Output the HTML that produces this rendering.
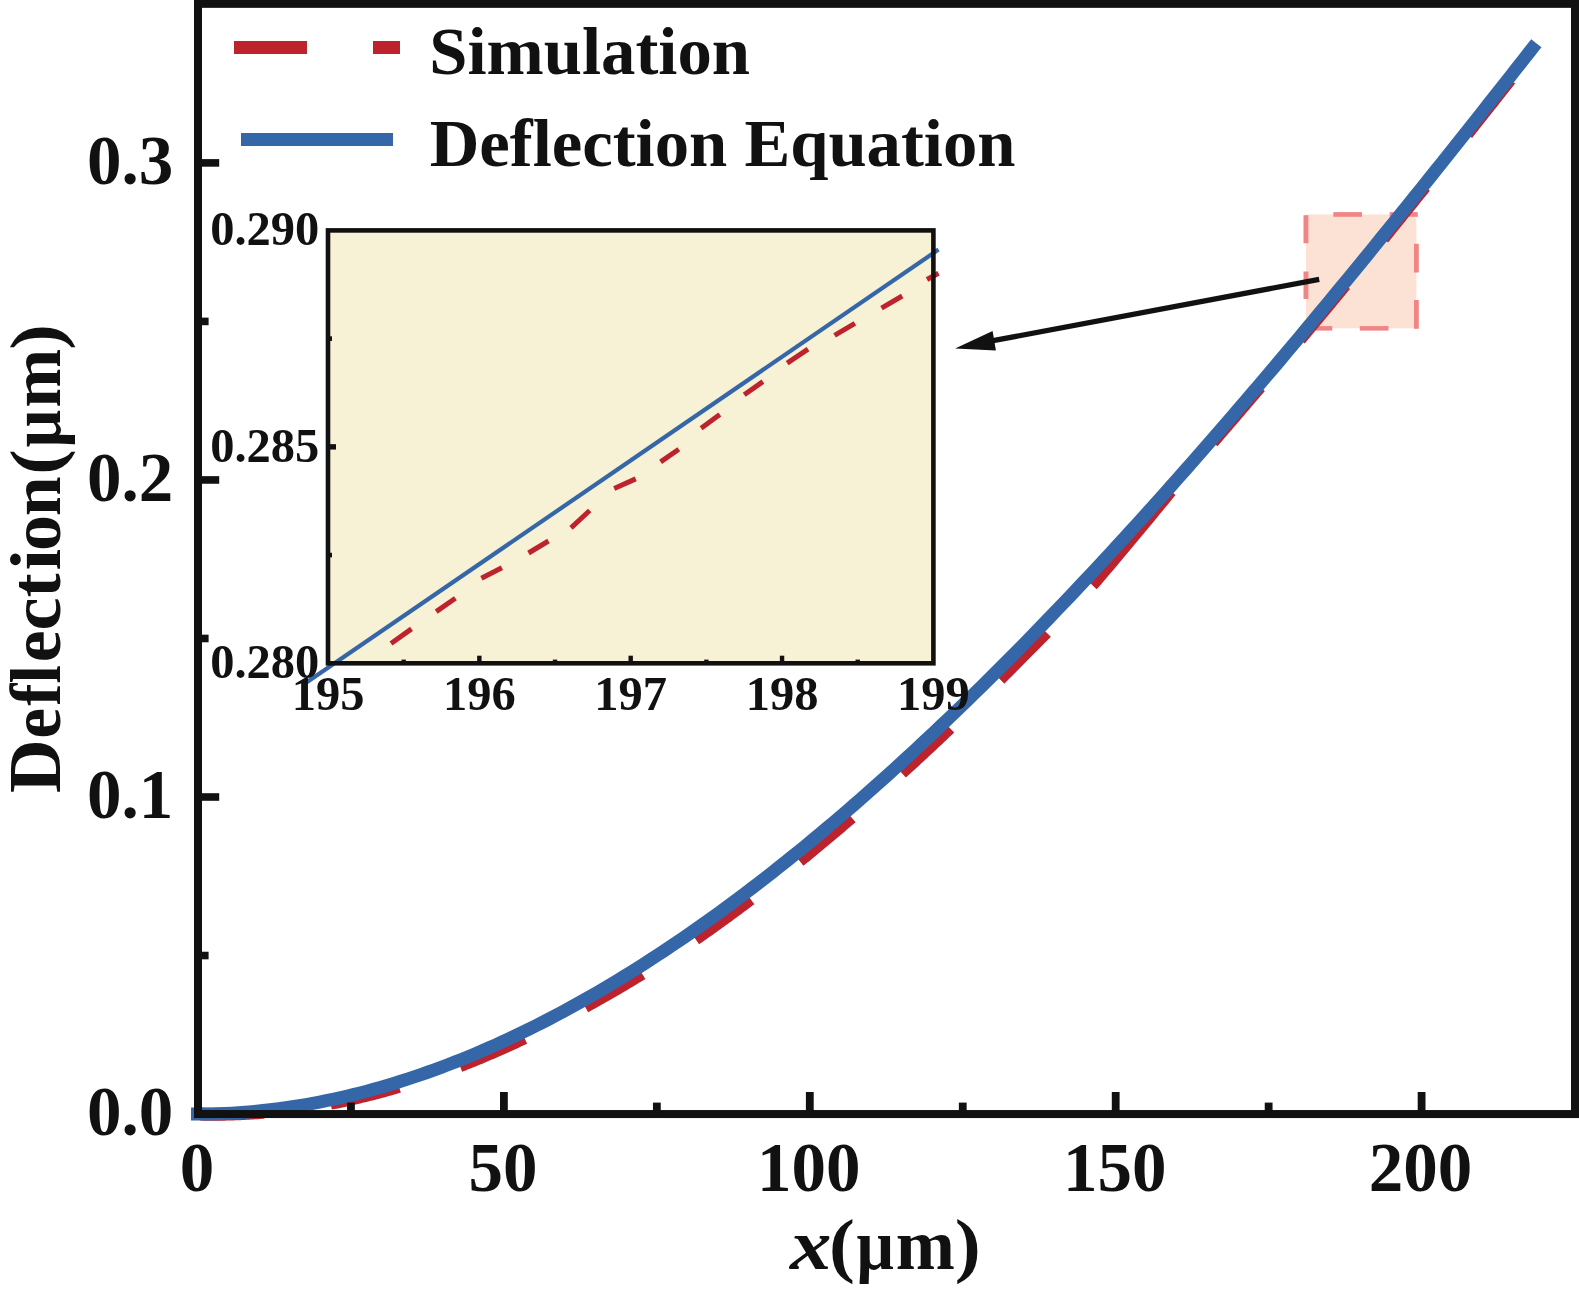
<!DOCTYPE html>
<html><head><meta charset="utf-8"><style>
html,body{margin:0;padding:0;background:#fff;overflow:hidden;width:1579px;height:1293px;}
svg{display:block;}
</style></head><body>
<svg width="1579" height="1293" viewBox="0 0 1579 1293">
<rect width="1579" height="1293" fill="#fff"/>
<rect x="1306" y="214.5" width="110.4" height="113.8" fill="#FCE2D5"/>
<rect x="1333.3" y="212.1" width="28.7" height="4.7" fill="#F08585"/>
<rect x="1389.7" y="212.1" width="28.1" height="4.7" fill="#F08585"/>
<rect x="1414" y="243.8" width="4.8" height="28.7" fill="#F08585"/>
<rect x="1414" y="300" width="4.8" height="28.8" fill="#F08585"/>
<rect x="1359.8" y="326.1" width="28.7" height="4.5" fill="#F08585"/>
<rect x="1316" y="326.1" width="16.2" height="4.5" fill="#F08585"/>
<rect x="1303.5" y="271.5" width="4.9" height="27.5" fill="#F08585"/>
<rect x="1303.5" y="215.2" width="4.9" height="28.1" fill="#F08585"/>
<path d="M200.00,1114.05 L202.21,1114.09 L204.41,1114.13 L206.62,1114.16 L208.83,1114.19 L211.03,1114.20 L213.24,1114.21 L215.45,1114.21 L217.66,1114.20 L219.86,1114.18 L222.07,1114.16 L224.28,1114.13 L226.48,1114.08 L228.69,1114.04 L230.90,1113.98 L233.10,1113.91 L235.31,1113.84 L237.52,1113.75 L239.72,1113.66 L241.93,1113.56 L244.14,1113.46 L246.34,1113.34 L248.55,1113.22 L250.76,1113.09 L252.97,1112.95 L255.17,1112.81 L257.38,1112.65 L259.59,1112.49 L261.79,1112.32 L264.00,1112.15" fill="none" stroke="#BE222D" stroke-width="13" stroke-linecap="butt"/>
<path d="M330.60,1103.20 L332.96,1102.74 L335.32,1102.27 L337.68,1101.79 L340.03,1101.31 L342.39,1100.81 L344.75,1100.31 L347.11,1099.79 L349.47,1099.27 L351.83,1098.74 L354.19,1098.21 L356.54,1097.66 L358.90,1097.10 L361.26,1096.54 L363.62,1095.97 L365.98,1095.39 L368.34,1094.80 L370.70,1094.21 L373.06,1093.60 L375.41,1092.99 L377.77,1092.37 L380.13,1091.74 L382.49,1091.11 L384.85,1090.46 L387.21,1089.81 L389.57,1089.15 L391.92,1088.48 L394.28,1087.80 L396.64,1087.11 L399.00,1086.42" fill="none" stroke="#BE222D" stroke-width="13" stroke-linecap="butt"/>
<path d="M459.80,1065.70 L462.03,1064.84 L464.26,1063.96 L466.48,1063.08 L468.71,1062.19 L470.94,1061.30 L473.17,1060.40 L475.39,1059.49 L477.62,1058.57 L479.85,1057.65 L482.08,1056.72 L484.30,1055.79 L486.53,1054.84 L488.76,1053.89 L490.99,1052.94 L493.21,1051.98 L495.44,1051.01 L497.67,1050.03 L499.90,1049.05 L502.12,1048.06 L504.35,1047.06 L506.58,1046.06 L508.81,1045.05 L511.03,1044.03 L513.26,1043.01 L515.49,1041.98 L517.72,1040.94 L519.94,1039.90 L522.17,1038.85 L524.40,1037.80" fill="none" stroke="#BE222D" stroke-width="13" stroke-linecap="butt"/>
<path d="M585.00,1006.59 L586.97,1005.49 L588.93,1004.40 L590.90,1003.30 L592.86,1002.22 L594.83,1001.12 L596.79,1000.02 L598.76,998.92 L600.72,997.81 L602.69,996.70 L604.66,995.58 L606.62,994.46 L608.59,993.33 L610.55,992.20 L612.52,991.06 L614.48,989.92 L616.45,988.77 L618.41,987.62 L620.38,986.47 L622.34,985.31 L624.31,984.14 L626.28,982.97 L628.24,981.79 L630.21,980.62 L632.17,979.43 L634.14,978.24 L636.10,977.05 L638.07,975.85 L640.03,974.65 L642.00,973.44" fill="none" stroke="#BE222D" stroke-width="13" stroke-linecap="butt"/>
<path d="M695.40,938.87 L697.30,937.58 L699.20,936.29 L701.10,934.97 L703.00,933.64 L704.90,932.30 L706.80,930.96 L708.70,929.61 L710.60,928.26 L712.50,926.91 L714.40,925.55 L716.30,924.19 L718.20,922.82 L720.10,921.45 L722.00,920.08 L723.90,918.70 L725.80,917.31 L727.70,915.93 L729.60,914.54 L731.50,913.14 L733.40,911.74 L735.30,910.34 L737.20,908.93 L739.10,907.52 L741.00,906.11 L742.90,904.69 L744.80,903.27 L746.70,901.84 L748.60,900.41 L750.50,898.98" fill="none" stroke="#BE222D" stroke-width="13" stroke-linecap="butt"/>
<path d="M799.40,860.72 L801.19,859.27 L802.99,857.81 L804.78,856.35 L806.57,854.89 L808.37,853.42 L810.16,851.95 L811.95,850.47 L813.74,849.00 L815.54,847.51 L817.33,846.03 L819.12,844.54 L820.92,843.05 L822.71,841.56 L824.50,840.06 L826.30,838.56 L828.09,837.06 L829.88,835.55 L831.68,834.04 L833.47,832.53 L835.26,831.01 L837.06,829.49 L838.85,827.97 L840.64,826.44 L842.43,824.91 L844.23,823.38 L846.02,821.84 L847.81,820.31 L849.61,818.76 L851.40,817.22" fill="none" stroke="#BE222D" stroke-width="13" stroke-linecap="butt"/>
<path d="M901.50,772.79 L903.16,771.27 L904.82,769.76 L906.49,768.24 L908.15,766.72 L909.81,765.20 L911.47,763.67 L913.13,762.14 L914.80,760.61 L916.46,759.08 L918.12,757.54 L919.78,756.00 L921.44,754.46 L923.11,752.92 L924.77,751.37 L926.43,749.82 L928.09,748.27 L929.76,746.72 L931.42,745.16 L933.08,743.60 L934.74,742.04 L936.40,740.48 L938.07,738.91 L939.73,737.35 L941.39,735.77 L943.05,734.20 L944.71,732.63 L946.38,731.05 L948.04,729.47 L949.70,727.88" fill="none" stroke="#BE222D" stroke-width="13" stroke-linecap="butt"/>
<path d="M999.80,679.06 L1001.40,677.46 L1003.00,675.87 L1004.60,674.27 L1006.20,672.67 L1007.80,671.06 L1009.40,669.46 L1011.00,667.85 L1012.60,666.25 L1014.20,664.63 L1015.80,663.02 L1017.40,661.41 L1019.00,659.79 L1020.60,658.17 L1022.20,656.55 L1023.80,654.93 L1025.40,653.30 L1027.00,651.68 L1028.60,650.05 L1030.20,648.44 L1031.80,646.82 L1033.40,645.21 L1035.00,643.59 L1036.60,641.97 L1038.20,640.34 L1039.80,638.72 L1041.40,637.09 L1043.00,635.46 L1044.60,633.83 L1046.20,632.20" fill="none" stroke="#BE222D" stroke-width="13" stroke-linecap="butt"/>
<path d="M1091.90,584.73 L1094.61,581.87 L1097.32,578.73 L1100.03,575.54 L1102.74,572.35 L1105.45,569.15 L1108.16,565.95 L1110.87,562.74 L1113.58,559.52 L1116.29,556.30 L1119.00,553.08 L1121.71,549.85 L1124.42,546.62 L1127.13,543.38 L1129.84,540.13 L1132.56,536.88 L1135.27,533.63 L1137.98,530.37 L1140.69,527.11 L1143.40,523.84 L1146.11,520.56 L1148.82,517.29 L1151.53,514.00 L1154.24,510.71 L1156.95,507.42 L1159.66,504.12 L1162.37,500.82 L1165.08,497.51 L1167.79,494.20 L1170.50,490.89" fill="none" stroke="#BE222D" stroke-width="13" stroke-linecap="butt"/>
<path d="M1212.50,442.03 L1214.13,440.14 L1215.77,438.25 L1217.40,436.37 L1219.04,434.48 L1220.67,432.58 L1222.31,430.69 L1223.94,428.80 L1225.58,426.90 L1227.21,425.00 L1228.84,423.11 L1230.48,421.21 L1232.11,419.30 L1233.75,417.40 L1235.38,415.50 L1237.02,413.59 L1238.65,411.68 L1240.29,409.77 L1241.92,407.86 L1243.56,405.95 L1245.19,404.04 L1246.82,402.12 L1248.46,400.20 L1250.09,398.29 L1251.73,396.37 L1253.36,394.45 L1255.00,392.52 L1256.63,390.60 L1258.27,388.67 L1259.90,386.75" fill="none" stroke="#BE222D" stroke-width="13" stroke-linecap="butt"/>
<path d="M1299.70,339.42 L1301.26,337.55 L1302.82,335.68 L1304.39,333.81 L1305.95,331.94 L1307.51,330.07 L1309.07,328.20 L1310.63,326.33 L1312.20,324.45 L1313.76,322.58 L1315.32,320.70 L1316.88,318.82 L1318.44,316.94 L1320.01,315.06 L1321.57,313.18 L1323.13,311.30 L1324.69,309.42 L1326.26,307.53 L1327.82,305.64 L1329.38,303.76 L1330.94,301.87 L1332.50,299.98 L1334.07,298.09 L1335.63,296.20 L1337.19,294.31 L1338.75,292.41 L1340.31,290.52 L1341.88,288.62 L1343.44,286.73 L1345.00,284.83" fill="none" stroke="#BE222D" stroke-width="13" stroke-linecap="butt"/>
<path d="M1383.00,238.36 L1384.44,236.59 L1385.88,234.82 L1387.31,233.05 L1388.75,231.28 L1390.19,229.50 L1391.63,227.73 L1393.07,225.95 L1394.50,224.18 L1395.94,222.40 L1397.38,220.63 L1398.82,218.85 L1400.26,217.07 L1401.69,215.29 L1403.13,213.52 L1404.57,211.74 L1406.01,209.96 L1407.44,208.18 L1408.88,206.40 L1410.32,204.62 L1411.76,202.84 L1413.20,201.06 L1414.63,199.27 L1416.07,197.49 L1417.51,195.70 L1418.95,193.92 L1420.39,192.13 L1421.82,190.35 L1423.26,188.56 L1424.70,186.77" fill="none" stroke="#BE222D" stroke-width="13" stroke-linecap="butt"/>
<path d="M1467.00,133.87 L1468.48,132.00 L1469.97,130.14 L1471.45,128.27 L1472.93,126.41 L1474.41,124.54 L1475.90,122.67 L1477.38,120.80 L1478.86,118.94 L1480.34,117.07 L1481.83,115.20 L1483.31,113.33 L1484.79,111.46 L1486.28,109.58 L1487.76,107.71 L1489.24,105.84 L1490.72,103.96 L1492.21,102.09 L1493.69,100.22 L1495.17,98.34 L1496.66,96.46 L1498.14,94.59 L1499.62,92.71 L1501.10,90.83 L1502.59,88.96 L1504.07,87.08 L1505.55,85.20 L1507.03,83.32 L1508.52,81.44 L1510.00,79.56" fill="none" stroke="#BE222D" stroke-width="13" stroke-linecap="butt"/>
<path d="M191.00,1114.01 L197.76,1114.05 L204.52,1114.01 L211.28,1113.90 L218.04,1113.72 L224.80,1113.45 L231.56,1113.12 L238.32,1112.71 L245.08,1112.22 L251.84,1111.66 L258.60,1111.03 L265.36,1110.32 L272.12,1109.54 L278.88,1108.69 L285.65,1107.77 L292.41,1106.77 L299.17,1105.70 L305.93,1104.57 L312.69,1103.36 L319.45,1102.08 L326.21,1100.73 L332.97,1099.30 L339.73,1097.81 L346.49,1096.26 L353.25,1094.63 L360.01,1092.93 L366.77,1091.17 L373.53,1089.33 L380.29,1087.43 L387.05,1085.46 L393.81,1083.43 L400.57,1081.33 L407.33,1079.16 L414.09,1076.92 L420.85,1074.62 L427.61,1072.26 L434.37,1069.83 L441.13,1067.33 L447.89,1064.77 L454.65,1062.15 L461.41,1059.46 L468.17,1056.71 L474.94,1053.89 L481.70,1051.01 L488.46,1048.07 L495.22,1045.07 L501.98,1042.01 L508.74,1038.88 L515.50,1035.69 L522.26,1032.45 L529.02,1029.14 L535.78,1025.77 L542.54,1022.34 L549.30,1018.85 L556.06,1015.30 L562.82,1011.69 L569.58,1008.03 L576.34,1004.30 L583.10,1000.52 L589.86,996.68 L596.62,992.78 L603.38,988.83 L610.14,984.81 L616.90,980.75 L623.66,976.62 L630.42,972.44 L637.18,968.20 L643.94,963.91 L650.70,959.57 L657.47,955.16 L664.23,950.71 L670.99,946.20 L677.75,941.64 L684.51,937.02 L691.27,932.35 L698.03,927.63 L704.79,922.86 L711.55,918.03 L718.31,913.15 L725.07,908.22 L731.83,903.24 L738.59,898.21 L745.35,893.13 L752.11,888.00 L758.87,882.81 L765.63,877.58 L772.39,872.30 L779.15,866.97 L785.91,861.60 L792.67,856.17 L799.43,850.70 L806.19,845.18 L812.95,839.61 L819.71,833.99 L826.47,828.33 L833.23,822.63 L839.99,816.87 L846.76,811.07 L853.52,805.23 L860.28,799.34 L867.04,793.41 L873.80,787.43 L880.56,781.41 L887.32,775.34 L894.08,769.24 L900.84,763.09 L907.60,756.89 L914.36,750.66 L921.12,744.38 L927.88,738.06 L934.64,731.70 L941.40,725.30 L948.16,718.86 L954.92,712.38 L961.68,705.86 L968.44,699.30 L975.20,692.70 L981.96,686.06 L988.72,679.39 L995.48,672.67 L1002.24,665.92 L1009.00,659.13 L1015.76,652.31 L1022.52,645.44 L1029.29,638.54 L1036.05,631.61 L1042.81,624.64 L1049.57,617.63 L1056.33,610.59 L1063.09,603.51 L1069.85,596.40 L1076.61,589.26 L1083.37,582.08 L1090.13,574.87 L1096.89,567.63 L1103.65,560.35 L1110.41,553.05 L1117.17,545.71 L1123.93,538.34 L1130.69,530.93 L1137.45,523.50 L1144.21,516.04 L1150.97,508.55 L1157.73,501.02 L1164.49,493.47 L1171.25,485.89 L1178.01,478.28 L1184.77,470.64 L1191.53,462.98 L1198.29,455.28 L1205.05,447.56 L1211.82,439.81 L1218.58,432.04 L1225.34,424.24 L1232.10,416.42 L1238.86,408.56 L1245.62,400.69 L1252.38,392.79 L1259.14,384.86 L1265.90,376.91 L1272.66,368.94 L1279.42,360.94 L1286.18,352.92 L1292.94,344.88 L1299.70,336.82 L1306.46,328.73 L1313.22,320.62 L1319.98,312.49 L1326.74,304.34 L1333.50,296.17 L1340.26,287.98 L1347.02,279.77 L1353.78,271.54 L1360.54,263.29 L1367.30,255.03 L1374.06,246.74 L1380.82,238.44 L1387.58,230.11 L1394.34,221.78 L1401.11,213.42 L1407.87,205.05 L1414.63,196.66 L1421.39,188.25 L1428.15,179.83 L1434.91,171.39 L1441.67,162.94 L1448.43,154.48 L1455.19,146.00 L1461.95,137.50 L1468.71,129.00 L1475.47,120.47 L1482.23,111.94 L1488.99,103.39 L1495.75,94.84 L1502.51,86.26 L1509.27,77.68 L1516.03,69.09 L1522.79,60.48 L1529.55,51.87 L1536.31,43.24" fill="none" stroke="#3567A8" stroke-width="13" stroke-linecap="butt"/>
<rect x="198" y="3.85" width="1377" height="1110.2" fill="none" stroke="#111111" stroke-width="8"/>
<rect x="200" y="1110.25" width="19.2" height="7.6" fill="#111111"/>
<rect x="200" y="793.20" width="19.2" height="7.6" fill="#111111"/>
<rect x="200" y="476.15" width="19.2" height="7.6" fill="#111111"/>
<rect x="200" y="159.10" width="19.2" height="7.6" fill="#111111"/>
<rect x="200" y="951.73" width="8.6" height="7.6" fill="#111111"/>
<rect x="200" y="634.67" width="8.6" height="7.6" fill="#111111"/>
<rect x="200" y="317.62" width="8.6" height="7.6" fill="#111111"/>
<rect x="194.10" y="1092" width="7.8" height="20" fill="#111111"/>
<rect x="500.00" y="1092" width="7.8" height="20" fill="#111111"/>
<rect x="805.90" y="1092" width="7.8" height="20" fill="#111111"/>
<rect x="1111.80" y="1092" width="7.8" height="20" fill="#111111"/>
<rect x="1417.70" y="1092" width="7.8" height="20" fill="#111111"/>
<rect x="347.05" y="1102.6" width="7.8" height="10" fill="#111111"/>
<rect x="652.95" y="1102.6" width="7.8" height="10" fill="#111111"/>
<rect x="958.85" y="1102.6" width="7.8" height="10" fill="#111111"/>
<rect x="1264.75" y="1102.6" width="7.8" height="10" fill="#111111"/>
<text x="173.2" y="1134.65" text-anchor="end" font-size="69" style="font-family:'Liberation Serif',serif;font-weight:bold;font-variant-ligatures:none;" fill="#111111">0.0</text>
<text x="173.2" y="817.60" text-anchor="end" font-size="69" style="font-family:'Liberation Serif',serif;font-weight:bold;font-variant-ligatures:none;" fill="#111111">0.1</text>
<text x="173.2" y="500.55" text-anchor="end" font-size="69" style="font-family:'Liberation Serif',serif;font-weight:bold;font-variant-ligatures:none;" fill="#111111">0.2</text>
<text x="173.2" y="183.50" text-anchor="end" font-size="69" style="font-family:'Liberation Serif',serif;font-weight:bold;font-variant-ligatures:none;" fill="#111111">0.3</text>
<text x="197.00" y="1190.5" text-anchor="middle" font-size="69" style="font-family:'Liberation Serif',serif;font-weight:bold;font-variant-ligatures:none;" fill="#111111">0</text>
<text x="502.90" y="1190.5" text-anchor="middle" font-size="69" style="font-family:'Liberation Serif',serif;font-weight:bold;font-variant-ligatures:none;" fill="#111111">50</text>
<text x="808.80" y="1190.5" text-anchor="middle" font-size="69" style="font-family:'Liberation Serif',serif;font-weight:bold;font-variant-ligatures:none;" fill="#111111">100</text>
<text x="1114.70" y="1190.5" text-anchor="middle" font-size="69" style="font-family:'Liberation Serif',serif;font-weight:bold;font-variant-ligatures:none;" fill="#111111">150</text>
<text x="1420.60" y="1190.5" text-anchor="middle" font-size="69" style="font-family:'Liberation Serif',serif;font-weight:bold;font-variant-ligatures:none;" fill="#111111">200</text>
<text transform="translate(790.05,1269) scale(1.1514,1)" x="0" y="0" font-size="72" style="font-family:'Liberation Serif',serif;font-weight:bold;font-variant-ligatures:none;font-style:italic;" fill="#111111">x</text>
<text transform="translate(828.96,1269) scale(1.0789,1)" x="0" y="0" font-size="72" style="font-family:'Liberation Serif',serif;font-weight:bold;font-variant-ligatures:none;" fill="#111111">(</text>
<text transform="translate(856.38,1269) scale(0.9154,1)" x="0" y="0" font-size="72" style="font-family:'Liberation Serif',serif;font-weight:bold;font-variant-ligatures:none;" fill="#111111">μ</text>
<text transform="translate(895.63,1269) scale(0.9860,1)" x="0" y="0" font-size="72" style="font-family:'Liberation Serif',serif;font-weight:bold;font-variant-ligatures:none;" fill="#111111">m</text>
<text transform="translate(954.63,1269) scale(1.0842,1)" x="0" y="0" font-size="72" style="font-family:'Liberation Serif',serif;font-weight:bold;font-variant-ligatures:none;" fill="#111111">)</text>
<text transform="translate(60,793.03) rotate(-90) scale(1.0319,1.03)" x="0" y="0" font-size="72" style="font-family:'Liberation Serif',serif;font-weight:bold;font-variant-ligatures:none;" fill="#111111">D</text>
<text transform="translate(60,738.74) rotate(-90) scale(0.9679,1)" x="0" y="0" font-size="72" style="font-family:'Liberation Serif',serif;font-weight:bold;font-variant-ligatures:none;" fill="#111111">e</text>
<text transform="translate(60,705.72) rotate(-90) scale(0.9238,1)" x="0" y="0" font-size="72" style="font-family:'Liberation Serif',serif;font-weight:bold;font-variant-ligatures:none;" fill="#111111">fl</text>
<text transform="translate(60,662.30) rotate(-90) scale(1.0000,1)" x="0" y="0" font-size="72" style="font-family:'Liberation Serif',serif;font-weight:bold;font-variant-ligatures:none;" fill="#111111">e</text>
<text transform="translate(60,630.51) rotate(-90) scale(1.0370,1)" x="0" y="0" font-size="72" style="font-family:'Liberation Serif',serif;font-weight:bold;font-variant-ligatures:none;" fill="#111111">c</text>
<text transform="translate(60,597.41) rotate(-90) scale(1.0087,1)" x="0" y="0" font-size="72" style="font-family:'Liberation Serif',serif;font-weight:bold;font-variant-ligatures:none;" fill="#111111">t</text>
<text transform="translate(60,570.56) rotate(-90) scale(1.0824,1)" x="0" y="0" font-size="72" style="font-family:'Liberation Serif',serif;font-weight:bold;font-variant-ligatures:none;" fill="#111111">i</text>
<text transform="translate(60,551.00) rotate(-90) scale(1.0000,1)" x="0" y="0" font-size="72" style="font-family:'Liberation Serif',serif;font-weight:bold;font-variant-ligatures:none;" fill="#111111">o</text>
<text transform="translate(60,516.19) rotate(-90) scale(0.9946,1)" x="0" y="0" font-size="72" style="font-family:'Liberation Serif',serif;font-weight:bold;font-variant-ligatures:none;" fill="#111111">n</text>
<text transform="translate(60,474.81) rotate(-90) scale(1.0684,1)" x="0" y="0" font-size="72" style="font-family:'Liberation Serif',serif;font-weight:bold;font-variant-ligatures:none;" fill="#111111">(</text>
<text transform="translate(60,447.32) rotate(-90) scale(0.9179,1)" x="0" y="0" font-size="72" style="font-family:'Liberation Serif',serif;font-weight:bold;font-variant-ligatures:none;" fill="#111111">μ</text>
<text transform="translate(60,407.77) rotate(-90) scale(0.9842,1)" x="0" y="0" font-size="72" style="font-family:'Liberation Serif',serif;font-weight:bold;font-variant-ligatures:none;" fill="#111111">m</text>
<text transform="translate(60,349.84) rotate(-90) scale(1.0684,1)" x="0" y="0" font-size="72" style="font-family:'Liberation Serif',serif;font-weight:bold;font-variant-ligatures:none;" fill="#111111">)</text>
<rect x="234" y="41" width="73" height="13" fill="#BE222D"/>
<rect x="373" y="41" width="27" height="13" fill="#BE222D"/>
<rect x="241" y="133" width="152" height="13" fill="#3567A8"/>
<text x="429.3" y="74" font-size="68.7" style="font-family:'Liberation Serif',serif;font-weight:bold;font-variant-ligatures:none;" fill="#111111">Simulation</text>
<text x="429.7" y="165.7" font-size="68.7" style="font-family:'Liberation Serif',serif;font-weight:bold;font-variant-ligatures:none;" fill="#111111">Deflection Equation</text>
<rect x="328.0" y="230.4" width="605.40" height="432.90" fill="#F7F1D5"/>
<line x1="306.4" y1="682.6" x2="938.5" y2="249.6" stroke="#3567A8" stroke-width="4.2"/>
<line x1="391" y1="643.5" x2="411.5" y2="628.9" stroke="#BE222D" stroke-width="5"/>
<line x1="436.2" y1="611.6" x2="455.4" y2="598.3" stroke="#BE222D" stroke-width="5"/>
<line x1="481.4" y1="578.3" x2="501.9" y2="567.7" stroke="#BE222D" stroke-width="5"/>
<line x1="528.5" y1="553" x2="548.5" y2="541" stroke="#BE222D" stroke-width="5"/>
<line x1="571" y1="527.8" x2="589.7" y2="510.5" stroke="#BE222D" stroke-width="5"/>
<line x1="614.2" y1="488.5" x2="635.7" y2="478.9" stroke="#BE222D" stroke-width="5"/>
<line x1="660.6" y1="461.9" x2="678.8" y2="449.3" stroke="#BE222D" stroke-width="5"/>
<line x1="701.1" y1="428.2" x2="719.8" y2="414.6" stroke="#BE222D" stroke-width="5"/>
<line x1="744.2" y1="394.8" x2="762.9" y2="381.6" stroke="#BE222D" stroke-width="5"/>
<line x1="787.2" y1="363.1" x2="808" y2="349.2" stroke="#BE222D" stroke-width="5"/>
<line x1="834.6" y1="335.3" x2="854.9" y2="323.4" stroke="#BE222D" stroke-width="5"/>
<line x1="881.5" y1="308.2" x2="902.2" y2="296" stroke="#BE222D" stroke-width="5"/>
<line x1="927" y1="279.5" x2="938.5" y2="273.2" stroke="#BE222D" stroke-width="5"/>
<rect x="328.0" y="230.4" width="605.40" height="432.90" fill="none" stroke="#111111" stroke-width="4.6"/>
<rect x="330" y="444.15" width="6" height="5.4" fill="#111111"/>
<rect x="330" y="552.78" width="2" height="4.6" fill="#111111"/>
<rect x="330" y="336.33" width="2" height="4.6" fill="#111111"/>
<rect x="477.15" y="655.7" width="4.4" height="6" fill="#111111"/>
<rect x="628.50" y="655.7" width="4.4" height="6" fill="#111111"/>
<rect x="779.85" y="655.7" width="4.4" height="6" fill="#111111"/>
<rect x="401.48" y="659.6" width="4.4" height="2" fill="#111111"/>
<rect x="552.82" y="659.6" width="4.4" height="2" fill="#111111"/>
<rect x="704.17" y="659.6" width="4.4" height="2" fill="#111111"/>
<rect x="855.52" y="659.6" width="4.4" height="2" fill="#111111"/>
<text x="319.3" y="678.10" text-anchor="end" font-size="48.5" style="font-family:'Liberation Serif',serif;font-weight:bold;font-variant-ligatures:none;" fill="#111111">0.280</text>
<text x="319.3" y="461.65" text-anchor="end" font-size="48.5" style="font-family:'Liberation Serif',serif;font-weight:bold;font-variant-ligatures:none;" fill="#111111">0.285</text>
<text x="319.3" y="245.20" text-anchor="end" font-size="48.5" style="font-family:'Liberation Serif',serif;font-weight:bold;font-variant-ligatures:none;" fill="#111111">0.290</text>
<text x="328.00" y="710" text-anchor="middle" font-size="48.5" style="font-family:'Liberation Serif',serif;font-weight:bold;font-variant-ligatures:none;" fill="#111111">195</text>
<text x="479.35" y="710" text-anchor="middle" font-size="48.5" style="font-family:'Liberation Serif',serif;font-weight:bold;font-variant-ligatures:none;" fill="#111111">196</text>
<text x="630.70" y="710" text-anchor="middle" font-size="48.5" style="font-family:'Liberation Serif',serif;font-weight:bold;font-variant-ligatures:none;" fill="#111111">197</text>
<text x="782.05" y="710" text-anchor="middle" font-size="48.5" style="font-family:'Liberation Serif',serif;font-weight:bold;font-variant-ligatures:none;" fill="#111111">198</text>
<text x="933.40" y="710" text-anchor="middle" font-size="48.5" style="font-family:'Liberation Serif',serif;font-weight:bold;font-variant-ligatures:none;" fill="#111111">199</text>
<line x1="1319.2" y1="279.4" x2="985" y2="342.2" stroke="#111111" stroke-width="5.3"/>
<polygon points="955.1,348.4 992.6,330.9 995.9,350.4" fill="#111111"/>
</svg>
</body></html>
